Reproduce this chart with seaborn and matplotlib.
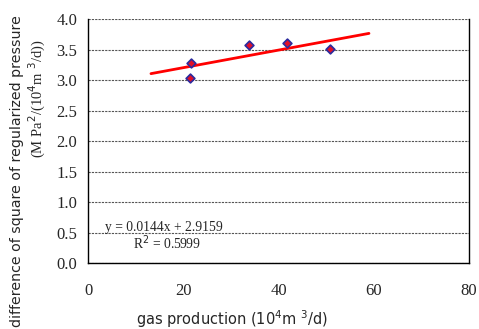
import matplotlib
matplotlib.use('Agg')
import matplotlib.pyplot as plt
import numpy as np
import pandas as pd
import seaborn as sns

# data
gas = [21.4, 21.6, 33.7, 41.7, 50.9]
dp2 = [3.04, 3.28, 3.57, 3.60, 3.51]
fit_x = [13.2, 59.0]
slope, intercept = 0.0144, 2.9159
x_ticks = [0, 20, 40, 60, 80]
y_ticks = [0.0, 0.5, 1.0, 1.5, 2.0, 2.5, 3.0, 3.5, 4.0]

df = pd.DataFrame({'gas': gas, 'dp2': dp2})
fit = pd.DataFrame({'x': fit_x})
fit['y'] = slope * fit['x'] + intercept

sns.set_style('white')
serif = ['Liberation Serif', 'DejaVu Serif']

fig, ax = plt.subplots(figsize=(4.79, 3.29), dpi=100)
fig.subplots_adjust(left=0.184, right=0.979, top=0.942, bottom=0.2)

for v in y_ticks:
    ax.axhline(v, color='#555555', linestyle=(0, (2, 1)), linewidth=0.8, zorder=1)

sns.lineplot(data=fit, x='x', y='y', ax=ax, color='red', linewidth=2, zorder=3)
sns.scatterplot(data=df, x='gas', y='dp2', ax=ax, marker='D', s=20,
                color='#e0102a', edgecolor='#2b2b9e', linewidth=1.2, zorder=4)

ax.set_xlim(0, 80)
ax.set_ylim(0, 4.0)
ax.set_xticks(x_ticks)
ax.set_yticks(y_ticks)
ax.set_xticklabels([str(t) for t in x_ticks], family=serif, fontsize=12)
ax.set_yticklabels([f'{t:.1f}' for t in y_ticks], family=serif, fontsize=12)
ax.tick_params(axis='x', direction='in', length=5, width=1, pad=14, color='#333333')
ax.tick_params(axis='y', length=0, pad=8)

for s in ['left', 'bottom', 'right']:
    ax.spines[s].set_color('black')
    ax.spines[s].set_linewidth(1.0)
ax.spines['top'].set_visible(False)

ax.set_xlabel('')
ax.set_ylabel('')
fig.text(0.485, 0.03, 'gas production (10$^4$m $^3$/d)', ha='center', va='center',
         fontsize=10.5)
fig.text(0.035, 0.48, 'difference of square of regularized pressure',
         rotation=90, va='center', ha='center', fontsize=10.2)
fig.text(0.079, 0.70, '(M Pa$^2$/(10$^4$m $^3$/d))', rotation=90,
         va='center', ha='center', fontsize=10.5, family=serif)

ax.text(3.6, 0.59, 'y = 0.0144x + 2.9159', family=serif, fontsize=9.8,
        va='center')
ax.text(9.5, 0.33, 'R$^2$ = 0.5999', family=serif, fontsize=9.8, va='center')

fig.savefig('out.png', dpi=100)
